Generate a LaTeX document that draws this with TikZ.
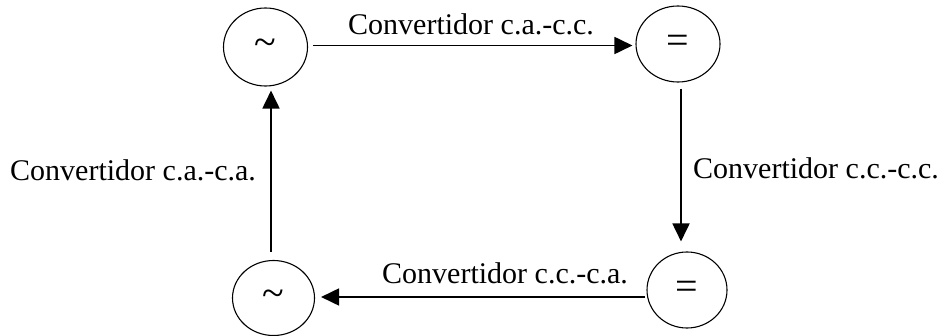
\documentclass[tikz,border=0pt]{standalone}
\usepackage{fontspec}
\setmainfont{Liberation Serif}
\usetikzlibrary{shapes.geometric,arrows.meta}
\begin{document}
\begin{tikzpicture}[x=1pt,y=1pt,
  conv/.style={draw, line width=1.1pt, ellipse, inner sep=0pt,
    font=\fontsize{40}{44}\selectfont},
  arr/.style={line width=1.8pt, -{Triangle[length=18pt,width=17pt]}},
  lbl/.style={anchor=base west, inner sep=0pt,
    font=\fontsize{30}{36}\selectfont}]
\useasboundingbox (0,0) rectangle (941,335);

% sources / sinks
\node[conv, minimum width=84pt, minimum height=78pt] (A) at (265.5,288) {\raisebox{-3pt}{\char`~}};
\node[conv, minimum width=84pt, minimum height=76pt] (B) at (678,291) {=};
\node[conv, minimum width=80pt, minimum height=76pt] (C) at (687,45) {=};
\node[conv, minimum width=82pt, minimum height=75pt] (D) at (273.5,37) {\raisebox{-4pt}{\char`~}};

% connector end points
\coordinate (a1) at ([xshift=5pt,yshift=1.5pt]A.east);
\coordinate (b1) at ([xshift=3pt,yshift=-6pt]B.south);
\coordinate (c1) at ([xshift=-1pt,yshift=-7pt]C.west);
\coordinate (d1) at ([xshift=-2.5pt,yshift=8pt]D.north);

% connectors
\draw[arr] (a1) -- ([xshift=-3pt]B.west |- a1);
\draw[arr] (b1) -- ([yshift=10pt]b1 |- C.north);
\draw[arr] (c1) -- ([xshift=6pt]D.east |- c1);
\draw[arr] (d1) -- ([yshift=-4pt]d1 |- A.south);

% labels
\node[lbl] (t1) at (348,300) {Convertidor c.a.-c.c.};
\node[lbl] (t2) at (693,157) {Convertidor c.c.-c.c.};
\node[lbl] (t3) at (382,52) {Convertidor c.c.-c.a.};
\node[lbl] (t4) at (10,155) {Convertidor c.a.-c.a.};
\end{tikzpicture}
\end{document}
